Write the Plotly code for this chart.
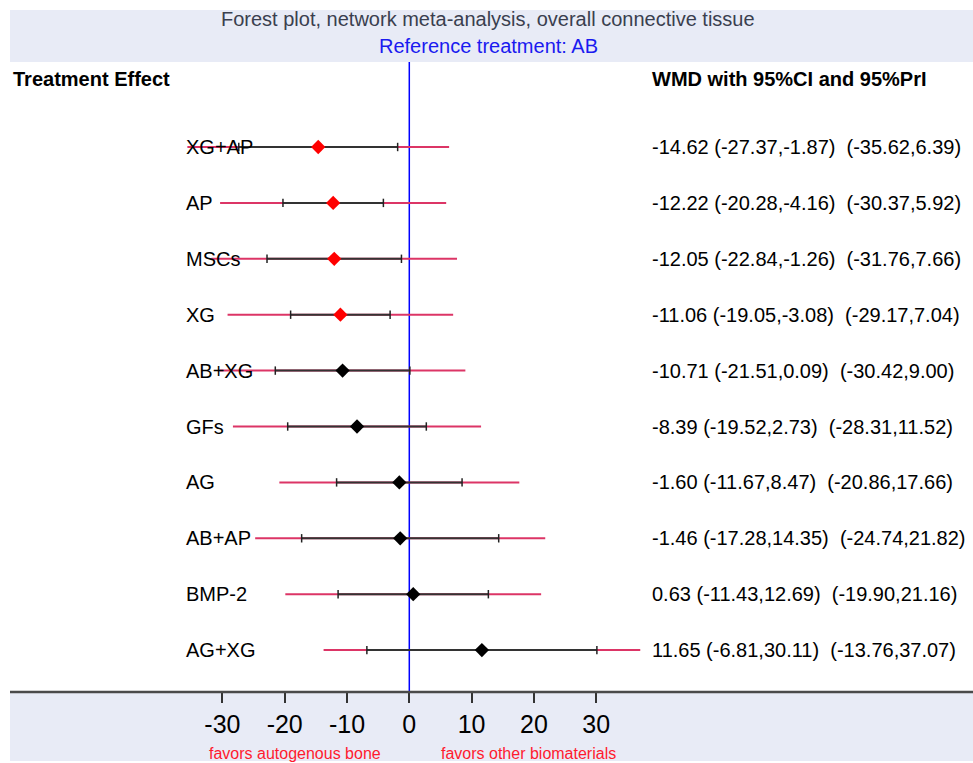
import plotly.graph_objects as go

treatments = ["XG+AP", "AP", "MSCs", "XG", "AB+XG", "GFs", "AG", "AB+AP", "BMP-2", "AG+XG"]
wmd = [-14.62, -12.22, -12.05, -11.06, -10.71, -8.39, -1.60, -1.46, 0.63, 11.65]
ci_lo = [-27.37, -20.28, -22.84, -19.05, -21.51, -19.52, -11.67, -17.28, -11.43, -6.81]
ci_hi = [-1.87, -4.16, -1.26, -3.08, 0.09, 2.73, 8.47, 14.35, 12.69, 30.11]
pi_lo = [-35.62, -30.37, -31.76, -29.17, -30.42, -28.31, -20.86, -24.74, -19.90, -13.76]
pi_hi = [6.39, 5.92, 7.66, 7.04, 9.00, 11.52, 17.66, 21.82, 21.16, 37.07]
tick_vals = [-30, -20, -10, 0, 10, 20, 30]

FONT = "Arial, Liberation Sans, sans-serif"
W, H = 973, 763
T, B = 62, 71
PH = H - T - B

def py(p):
    # pixel y -> paper y
    return (H - B - p) / PH

rows = list(range(len(treatments)))

fig = go.Figure()

# prediction intervals
px_, py_ = [], []
for i in rows:
    px_ += [pi_lo[i], pi_hi[i], None]
    py_ += [i, i, None]
fig.add_trace(go.Scatter(x=px_, y=py_, mode="lines",
                         line=dict(color="#DC3566", width=2), hoverinfo="skip"))

# confidence intervals
cx, cy = [], []
for i in rows:
    cx += [ci_lo[i], ci_hi[i], None]
    cy += [i, i, None]
fig.add_trace(go.Scatter(x=cx, y=cy, mode="lines",
                         line=dict(color="#333333", width=2), hoverinfo="skip"))

# CI end ticks
fig.add_trace(go.Scatter(x=ci_lo + ci_hi, y=rows + rows, mode="markers",
                         marker=dict(symbol="line-ns", size=6,
                                     line=dict(color="#222222", width=1.5)),
                         hoverinfo="skip"))

# point estimates
colors = ["#FF0000" if ci_hi[i] < 0 or ci_lo[i] > 0 else "#000000" for i in rows]
fig.add_trace(go.Scatter(x=wmd, y=rows, mode="markers",
                         marker=dict(symbol="diamond", size=11, color=colors,
                                     line=dict(width=0))))

def ann(x, y, text, size=20, color="#000000", xanchor="left", yref="paper"):
    return dict(x=x / W, xref="paper", y=y, yref=yref, text=text,
                xanchor=xanchor, yanchor="middle", showarrow=False,
                borderpad=0, borderwidth=0,
                font=dict(family=FONT, size=size, color=color))

annotations = []
for i in rows:
    annotations.append(ann(186, i, treatments[i], yref="y"))
    txt = "%.2f (%.2f,%.2f)\u00a0\u00a0(%.2f,%.2f)" % (wmd[i], ci_lo[i], ci_hi[i], pi_lo[i], pi_hi[i])
    annotations.append(ann(652, i, txt, yref="y"))

annotations += [
    ann(13, py(79), "<b>Treatment Effect</b>"),
    ann(652, py(79), "<b>WMD with 95%CI and 95%PrI</b>"),
    ann(488, py(19), "Forest plot, network meta-analysis, overall connective tissue",
        color="#3A3F4F", xanchor="center"),
    ann(488, py(46), "Reference treatment: AB", color="#1A1AF0", xanchor="center"),
    ann(295, py(753), "favors autogenous bone", size=16, color="#FF1A2E", xanchor="center"),
    ann(528, py(753), "favors other biomaterials", size=16, color="#FF1A2E", xanchor="center"),
]

shapes = [
    dict(type="rect", xref="paper", yref="paper", x0=10 / W, x1=1, y0=py(62), y1=py(10),
         fillcolor="#E8EBF6", line=dict(width=0), layer="below"),
    dict(type="rect", xref="paper", yref="paper", x0=10 / W, x1=1, y0=py(761), y1=py(692),
         fillcolor="#E8EBF6", line=dict(width=0), layer="below"),
    dict(type="line", xref="x", yref="paper", x0=0, x1=0, y0=0, y1=1,
         line=dict(color="#0000FF", width=1.5), layer="below"),
    dict(type="line", xref="paper", yref="paper", x0=10 / W, x1=1, y0=0, y1=0,
         line=dict(color="#4A4A4A", width=2.5)),
]

x0 = -409.3 / 6.23
x1 = (W - 409.3) / 6.23
y_top = (T - 147) / 55.9
y_bot = (H - B - 147) / 55.9

fig.update_layout(
    width=W, height=H,
    margin=dict(l=0, r=0, t=T, b=B, pad=0),
    paper_bgcolor="white", plot_bgcolor="rgba(0,0,0,0)",
    showlegend=False,
    annotations=annotations, shapes=shapes,
    xaxis=dict(range=[x0, x1], tickvals=tick_vals, ticktext=[str(v) for v in tick_vals],
               ticks="outside", ticklen=10, tickwidth=1.5, tickcolor="#333333",
               showgrid=False, zeroline=False, showline=False, fixedrange=True,
               tickfont=dict(family=FONT, size=25, color="#000000")),
    yaxis=dict(range=[y_bot, y_top], showgrid=False, zeroline=False, showline=False,
               showticklabels=False, ticks="", fixedrange=True),
)

fig.write_html("out.html")
